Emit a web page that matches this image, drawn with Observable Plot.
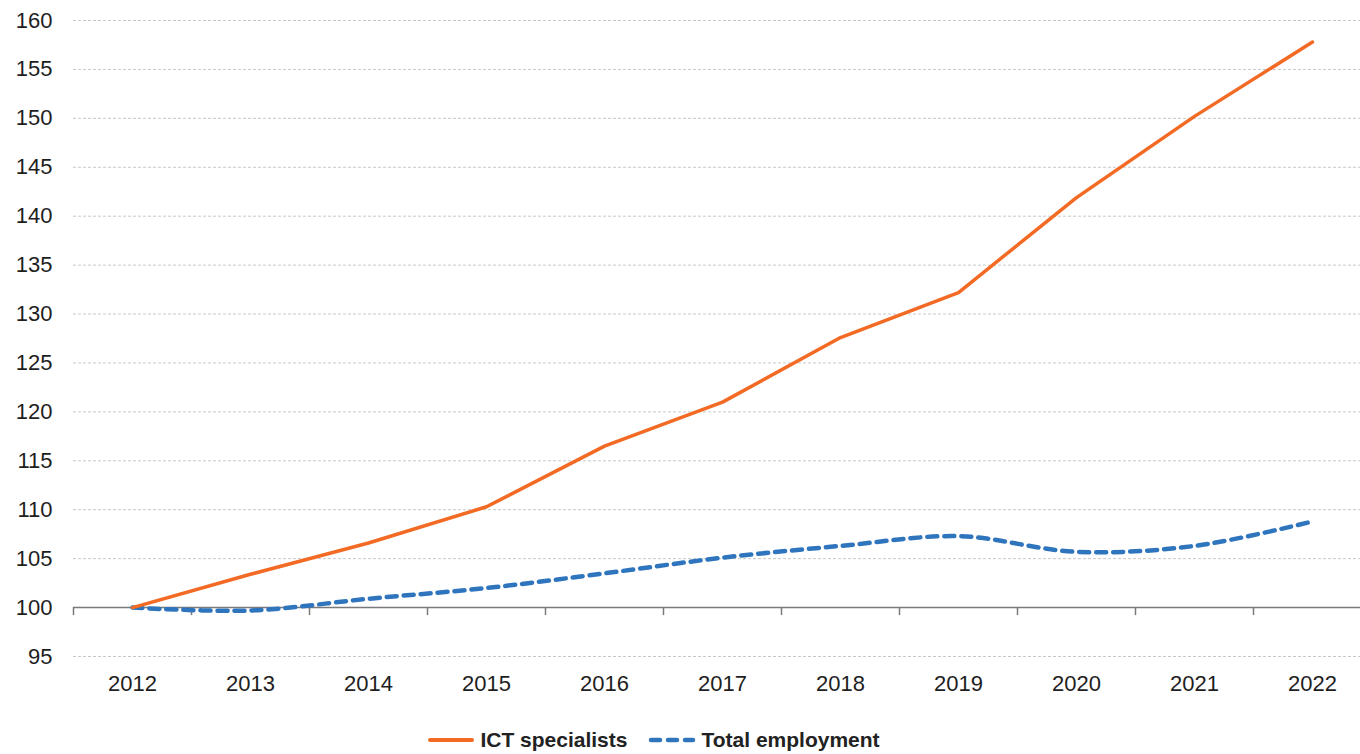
<!DOCTYPE html>
<html>
<head>
<meta charset="utf-8">
<script src="https://cdn.jsdelivr.net/npm/d3@7"></script>
<script src="https://cdn.jsdelivr.net/npm/@observablehq/plot@0.6"></script>
<style>
  html, body { margin: 0; padding: 0; background: #fff; }
  body { width: 1360px; height: 754px; overflow: hidden; font-family: "Liberation Sans", Arial, sans-serif; }
  #legend { display: flex; justify-content: center; align-items: center; gap: 20px; height: 40px; margin-top: 8px; margin-left: -54px; font-weight: bold; font-size: 21px; color: #222; }
  .item { display: flex; align-items: center; gap: 4px; }
</style>
</head>
<body>
<div id="chart"></div>
<div id="legend"></div>
<script>
const years = [2012, 2013, 2014, 2015, 2016, 2017, 2018, 2019, 2020, 2021, 2022];
const ictSpecialists = [100, 103.4, 106.6, 110.3, 116.5, 121.0, 127.6, 132.2, 141.9, 150.2, 157.8];
const totalEmployment = [100, 99.7, 100.9, 102.0, 103.5, 105.1, 106.3, 107.3, 105.7, 106.3, 108.8];
const yTicks = [95, 100, 105, 110, 115, 120, 125, 130, 135, 140, 145, 150, 155, 160];
const seriesNames = ["ICT specialists", "Total employment"];
const colors = ["#f26a24", "#2f75be"];

const ict = years.map((y, i) => ({year: y, value: ictSpecialists[i]}));
const tot = years.map((y, i) => ({year: y, value: totalEmployment[i]}));
const bounds = years.map(y => y - 0.5);
const gridTicks = yTicks.filter(v => v !== 100);

const chart = Plot.plot({
  width: 1360,
  height: 712,
  marginLeft: 73,
  marginRight: -11,
  marginTop: 20,
  marginBottom: 56,
  style: {fontFamily: "'Liberation Sans', Arial, sans-serif", fontSize: "22px", color: "#1e1e1e", background: "#fff", overflow: "hidden"},
  x: {domain: [years[0] - 0.5, years[years.length - 1] + 0.5]},
  y: {domain: [95, 160]},
  marks: [
    Plot.ruleY(gridTicks, {stroke: "#c8c8c8", strokeWidth: 1, strokeDasharray: "3,2"}),
    Plot.axisY({ticks: yTicks, tickSize: 0, tickPadding: 21, tickFormat: d => String(d), label: null, fontSize: 22}),
    Plot.axisX({ticks: years, tickSize: 0, tickPadding: 19, tickFormat: d => String(d), label: null, fontSize: 22}),
    Plot.ruleY([100], {stroke: "#7a7a7a", strokeWidth: 1.5}),
    Plot.ruleX(bounds, {x: d => d, y1: () => 100, y2: () => 100, insetBottom: -8, stroke: "#7a7a7a", strokeWidth: 1.5}),
    Plot.line(tot, {x: "year", y: "value", stroke: colors[1], strokeWidth: 4.5, strokeDasharray: "10,7", strokeLinecap: "round", curve: "catmull-rom"}),
    Plot.line(ict, {x: "year", y: "value", stroke: colors[0], strokeWidth: 3.5, strokeLinecap: "round", strokeLinejoin: "round", curve: "linear"})
  ]
});
document.getElementById("chart").appendChild(chart);

const legend = document.getElementById("legend");
seriesNames.forEach((name, i) => {
  const item = document.createElement("div");
  item.className = "item";
  const dash = i === 1 ? 'stroke-dasharray="9,8" stroke-width="4.5"' : 'stroke-width="4"';
  item.innerHTML = `<svg width="50" height="10"><line x1="4" y1="5" x2="46" y2="5" stroke="${colors[i]}" ${dash} stroke-linecap="round"/></svg><span>${name}</span>`;
  legend.appendChild(item);
});
</script>
</body>
</html>
